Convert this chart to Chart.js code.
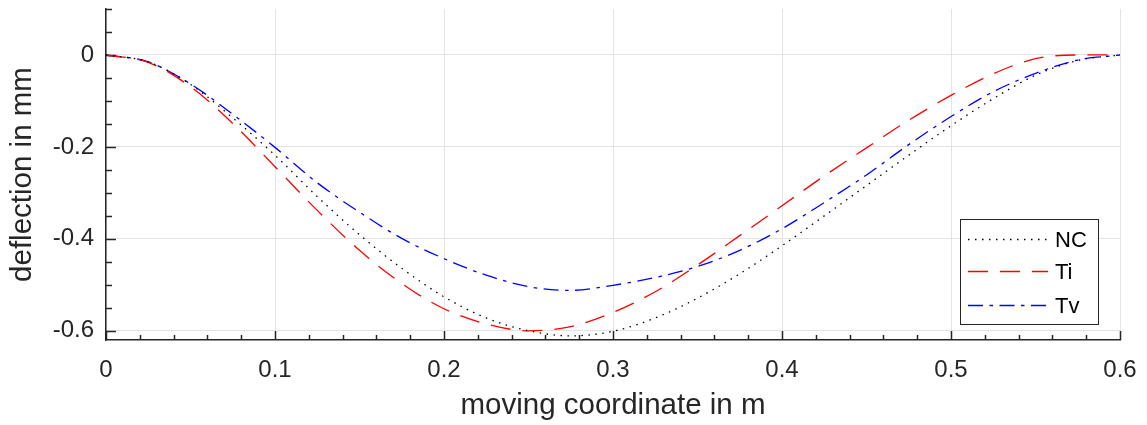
<!DOCTYPE html>
<html>
<head>
<meta charset="utf-8">
<script src="https://cdn.jsdelivr.net/npm/chart.js@4.4.1/dist/chart.umd.min.js"></script>
<style>
  html, body { margin: 0; padding: 0; background: #ffffff; }
  #wrap { width: 1147px; height: 425px; }
</style>
</head>
<body>
<div id="wrap"><canvas id="c" width="1147" height="425"></canvas></div>
<script>
// Moving coordinate along the beam (m)
const positions = [0, 0.025, 0.05, 0.075, 0.1, 0.125, 0.15, 0.175, 0.2, 0.225, 0.25, 0.275, 0.3,
                   0.325, 0.35, 0.375, 0.4, 0.425, 0.45, 0.475, 0.5, 0.525, 0.55, 0.575, 0.6];
// Deflection (mm) for each configuration
const deflectionNC = [0, -0.015, -0.064, -0.137, -0.218, -0.308, -0.391, -0.464, -0.526, -0.572, -0.600, -0.611, -0.601,
                      -0.572, -0.529, -0.476, -0.415, -0.350, -0.284, -0.218, -0.154, -0.095, -0.044, -0.012, 0];
const deflectionTi = [0, -0.016, -0.069, -0.149, -0.243, -0.338, -0.425, -0.497, -0.552, -0.585, -0.600, -0.591, -0.560,
                      -0.515, -0.457, -0.393, -0.328, -0.263, -0.202, -0.142, -0.088, -0.041, -0.008, 0, 0];
const deflectionTv = [0, -0.015, -0.063, -0.129, -0.201, -0.278, -0.342, -0.399, -0.443, -0.479, -0.504, -0.512, -0.501,
                      -0.484, -0.460, -0.425, -0.378, -0.321, -0.261, -0.195, -0.134, -0.080, -0.040, -0.011, 0];
const seriesNames = ['NC', 'Ti', 'Tv'];

// Labelled (major) ticks and their texts
const xMajorTicks = [0, 0.1, 0.2, 0.3, 0.4, 0.5, 0.6];
const xTickLabels = ['0', '0.1', '0.2', '0.3', '0.4', '0.5', '0.6'];
const yMajorTicks = [0, -0.2, -0.4, -0.6];
const yTickLabels = ['0', '-0.2', '-0.4', '-0.6'];
// Unlabelled (minor) tick steps
const xMinorStep = 0.02;
const yMinorStep = 0.05;

const AXIS_COLOR = '#262626';
const GRID_COLOR = '#e3e3e3';
const FONT = 'Liberation Sans, Arial, Helvetica, sans-serif';

function near(a, b) { return Math.abs(a - b) < 1e-6; }
function majorIndex(list, v) { return list.findIndex(m => near(m, v)); }

function minorTicks(min, max, step) {
  const out = [];
  const start = Math.ceil(min / step - 1e-6);
  const end = Math.floor(max / step + 1e-6);
  for (let i = start; i <= end; i++) out.push({ value: Math.round(i * step * 1000) / 1000 });
  return out;
}

function toPoints(ys) { return positions.map((x, i) => ({ x: x, y: ys[i] })); }

// Tick marks pointing into the plot area, longer on labelled ticks
const inwardTicks = {
  id: 'inwardTicks',
  beforeDatasetsDraw(chart) {
    const ctx = chart.ctx;
    const xs = chart.scales.x, ys = chart.scales.y;
    ctx.save();
    ctx.strokeStyle = AXIS_COLOR;
    ctx.lineWidth = 1.5;
    ctx.beginPath();
    xs.ticks.forEach(t => {
      const px = Math.round(xs.getPixelForValue(t.value)) + 0.5;
      const len = majorIndex(xMajorTicks, t.value) >= 0 ? 9 : 5;
      ctx.moveTo(px, ys.bottom);
      ctx.lineTo(px, ys.bottom - len);
    });
    ys.ticks.forEach(t => {
      const py = Math.round(ys.getPixelForValue(t.value)) + 0.5;
      const len = majorIndex(yMajorTicks, t.value) >= 0 ? 10 : 6;
      ctx.moveTo(xs.left, py);
      ctx.lineTo(xs.left + len, py);
    });
    ctx.stroke();
    ctx.restore();
  }
};

// Boxed legend inside the plot area, lower right
const boxedLegend = {
  id: 'boxedLegend',
  afterDraw(chart) {
    const ctx = chart.ctx;
    const box = { x: 960.5, y: 219.5, w: 138, h: 105 };
    const rows = [239.5, 271.5, 305.5];
    ctx.save();
    ctx.fillStyle = '#ffffff';
    ctx.fillRect(box.x, box.y, box.w, box.h);
    ctx.strokeStyle = AXIS_COLOR;
    ctx.lineWidth = 1;
    ctx.setLineDash([]);
    ctx.strokeRect(box.x, box.y, box.w, box.h);
    chart.data.datasets.forEach((ds, i) => {
      const y = rows[i];
      ctx.beginPath();
      ctx.strokeStyle = ds.borderColor;
      ctx.lineWidth = ds.borderWidth;
      ctx.setLineDash(ds.borderDash || []);
      ctx.moveTo(968, y);
      ctx.lineTo(1048, y);
      ctx.stroke();
      ctx.setLineDash([]);
      ctx.fillStyle = '#000000';
      ctx.font = '22px ' + FONT;
      ctx.textBaseline = 'middle';
      ctx.textAlign = 'left';
      ctx.fillText(ds.label, 1055, y + 1);
    });
    ctx.restore();
  }
};

const lineCommon = {
  pointRadius: 0,
  pointHoverRadius: 0,
  fill: false,
  cubicInterpolationMode: 'monotone',
  borderWidth: 1.3
};

new Chart(document.getElementById('c'), {
  type: 'line',
  data: {
    datasets: [
      Object.assign({ label: seriesNames[0], data: toPoints(deflectionNC), borderColor: '#000000', borderDash: [1.5, 5.5] }, lineCommon),
      Object.assign({ label: seriesNames[1], data: toPoints(deflectionTi), borderColor: '#ff0000', borderDash: [20, 12] }, lineCommon),
      Object.assign({ label: seriesNames[2], data: toPoints(deflectionTv), borderColor: '#0000ff', borderDash: [15, 6.5, 3.5, 6.5] }, lineCommon)
    ]
  },
  options: {
    responsive: false,
    animation: false,
    devicePixelRatio: 1,
    layout: { padding: { top: 9, right: 27, left: 0, bottom: 0 } },
    plugins: { legend: { display: false }, tooltip: { enabled: false } },
    scales: {
      x: {
        type: 'linear',
        min: 0,
        max: 0.6,
        afterBuildTicks: s => { s.ticks = minorTicks(0, 0.6, xMinorStep); },
        afterFit: s => { s.height = 85; s.paddingLeft = 0; s.paddingRight = 0; },
        grid: {
          drawTicks: false,
          lineWidth: 1,
          color: c => (c.tick && majorIndex(xMajorTicks, c.tick.value) >= 0) ? GRID_COLOR : 'rgba(0,0,0,0)'
        },
        border: { display: true, color: AXIS_COLOR, width: 1.5 },
        ticks: {
          autoSkip: false,
          maxRotation: 0,
          padding: 16,
          color: AXIS_COLOR,
          font: { family: FONT, size: 24 },
          callback: v => { const k = majorIndex(xMajorTicks, v); return k >= 0 ? xTickLabels[k] : ''; }
        },
        title: {
          display: true,
          text: 'moving coordinate in m',
          color: AXIS_COLOR,
          font: { family: FONT, size: 29.5 },
          padding: { top: 0, bottom: 1 }
        }
      },
      y: {
        type: 'linear',
        min: -0.62,
        max: 0.1,
        afterBuildTicks: s => { s.ticks = minorTicks(-0.62, 0.1, yMinorStep); },
        afterFit: s => { s.width = 106; s.paddingTop = 0; s.paddingBottom = 0; },
        grid: {
          drawTicks: false,
          lineWidth: 1,
          color: c => (c.tick && majorIndex(yMajorTicks, c.tick.value) >= 0) ? GRID_COLOR : 'rgba(0,0,0,0)'
        },
        border: { display: true, color: AXIS_COLOR, width: 1.5 },
        ticks: {
          autoSkip: false,
          padding: 12,
          color: AXIS_COLOR,
          font: { family: FONT, size: 24 },
          callback: v => { const k = majorIndex(yMajorTicks, v); return k >= 0 ? yTickLabels[k] : ''; }
        },
        title: {
          display: true,
          text: 'deflection in mm',
          color: AXIS_COLOR,
          font: { family: FONT, size: 29.5 },
          padding: { top: 5, bottom: 0 }
        }
      }
    }
  },
  plugins: [inwardTicks, boxedLegend]
});
</script>
</body>
</html>
